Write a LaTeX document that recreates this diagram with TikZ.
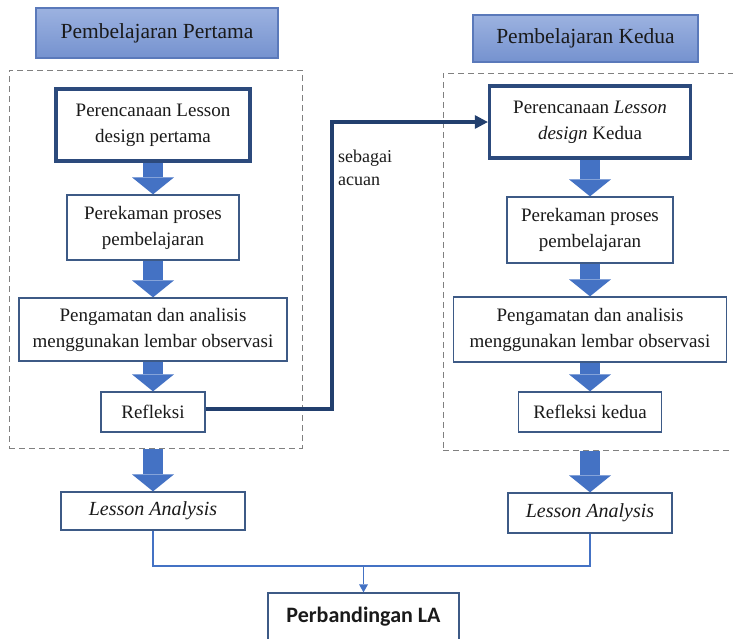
\documentclass[tikz,border=0pt]{standalone}
\usepackage{fontspec}
\setmainfont{Liberation Serif}
\newfontfamily\calibrifont{Carlito}
\usetikzlibrary{arrows.meta,calc,positioning}
\definecolor{ink}{HTML}{1A1A1A}
\definecolor{frame}{HTML}{3D5A86}
\definecolor{navy}{HTML}{2C4A7C}
\definecolor{navyline}{HTML}{223F6E}
\definecolor{blockblue}{HTML}{4472C4}
\definecolor{headtop}{HTML}{9CB2E0}
\definecolor{headbot}{HTML}{7592CF}
\definecolor{headedge}{HTML}{5A79BA}
\definecolor{dashgray}{HTML}{808080}
\tikzset{
  basebox/.style={draw=frame,fill=white,line width=1.3pt,align=center,inner sep=0pt,text=ink,font=\fontsize{19}{26}\selectfont},
  planbox/.style={basebox,draw=navy,line width=3.5pt},
  headbox/.style={draw=headedge,line width=1.3pt,top color=headtop,bottom color=headbot,inner sep=0pt,text=ink,font=\fontsize{21.5}{26}\selectfont},
  groupframe/.style={draw=dashgray,line width=1pt,dash pattern=on 6pt off 4pt,inner sep=0pt},
  blockarrow/.style={-{Triangle[width=42pt,length=17pt,line width=0pt]},line width=20pt,draw=blockblue},
  refarrow/.style={-{Triangle[width=14pt,length=13pt,line width=0pt]},line width=3.2pt,draw=navyline},
  mergeline/.style={line width=1.6pt,draw=blockblue}
}
\begin{document}
\begin{tikzpicture}[
        x=1pt,y=-1pt,
        labox/.style={basebox,font=\fontsize{20}{26}\selectfont\itshape},
        cmpbox/.style={basebox,font=\calibrifont\bfseries\fontsize{22}{26}\selectfont},
        refnote/.style={font=\fontsize{18}{23}\selectfont,align=left,inner sep=0pt,text=ink}
      ]
        \useasboundingbox (0,0) rectangle (733,638);

        \node[groupframe,minimum width=293pt,minimum height=378pt] (grpA) at (155.5,259) {};
        \node[groupframe,minimum width=302pt,minimum height=377pt] (grpB) at (594,261.5) {};

        \node[headbox,minimum width=242pt,minimum height=50pt] (headA) at (157,33) {Pembelajaran Pertama};
        \node[headbox,minimum width=225pt,minimum height=47pt] (headB) at (585.5,38.5) {Pembelajaran Kedua};

        \node[planbox,minimum width=194pt,minimum height=72pt] (p1L) at (153,125) {Perencanaan Lesson\\design pertama};
        \node[basebox,minimum width=172pt,minimum height=65pt] (p2L) at (153,227.5) {Perekaman proses\\pembelajaran};
        \node[basebox,minimum width=268pt,minimum height=63pt] (p3L) at (153,329.5) {Pengamatan dan analisis\\menggunakan lembar observasi};
        \node[basebox,minimum width=104pt,minimum height=40pt] (p4L) at (153,412) {Refleksi};
        \node[labox,minimum width=184pt,minimum height=38pt] (laL) at (153,511) {Lesson Analysis};

        \node[planbox,minimum width=201pt,minimum height=72pt] (p1R) at (590,122) {Perencanaan \textit{Lesson}\\\textit{design} Kedua};
        \node[basebox,minimum width=166pt,minimum height=66pt] (p2R) at (590,230) {Perekaman proses\\pembelajaran};
        \node[basebox,minimum width=273pt,minimum height=65pt] (p3R) at (590,329.5) {Pengamatan dan analisis\\menggunakan lembar observasi};
        \node[basebox,minimum width=143pt,minimum height=40pt] (p4R) at (590,412) {Refleksi kedua};
        \node[labox,minimum width=164pt,minimum height=40pt] (laR) at (590,513) {Lesson Analysis};

        \node[cmpbox,minimum width=191pt,minimum height=48pt] (cmp) at (363.5,617) {Perbandingan LA};

        \foreach \a/\b in {p1L/p2L,p2L/p3L,p3L/p4L,p1R/p2R,p2R/p3R,p3R/p4R} {
          \draw[blockarrow] (\a.south) -- (\b.north);
        }
        \draw[blockarrow] (laL.north |- grpA.south) -- (laL.north);
        \draw[blockarrow] (laR.north |- grpB.south) -- (laR.north);

        \coordinate (bend) at (332,122);
        \draw[refarrow] ([yshift=3pt]p4L.east) -| (bend) |- (p1R.west);
        \node[refnote,anchor=north west] (acuan) at (338,150) {sebagai\\acuan};

        \coordinate (join) at (363.5,566);
        \draw[mergeline] (laL.south) |- (join) -| (laR.south);
        \draw[mergeline,-{Triangle[width=9pt,length=8pt,line width=0pt]}] (join) -- (cmp.north);
      \end{tikzpicture}
\end{document}
